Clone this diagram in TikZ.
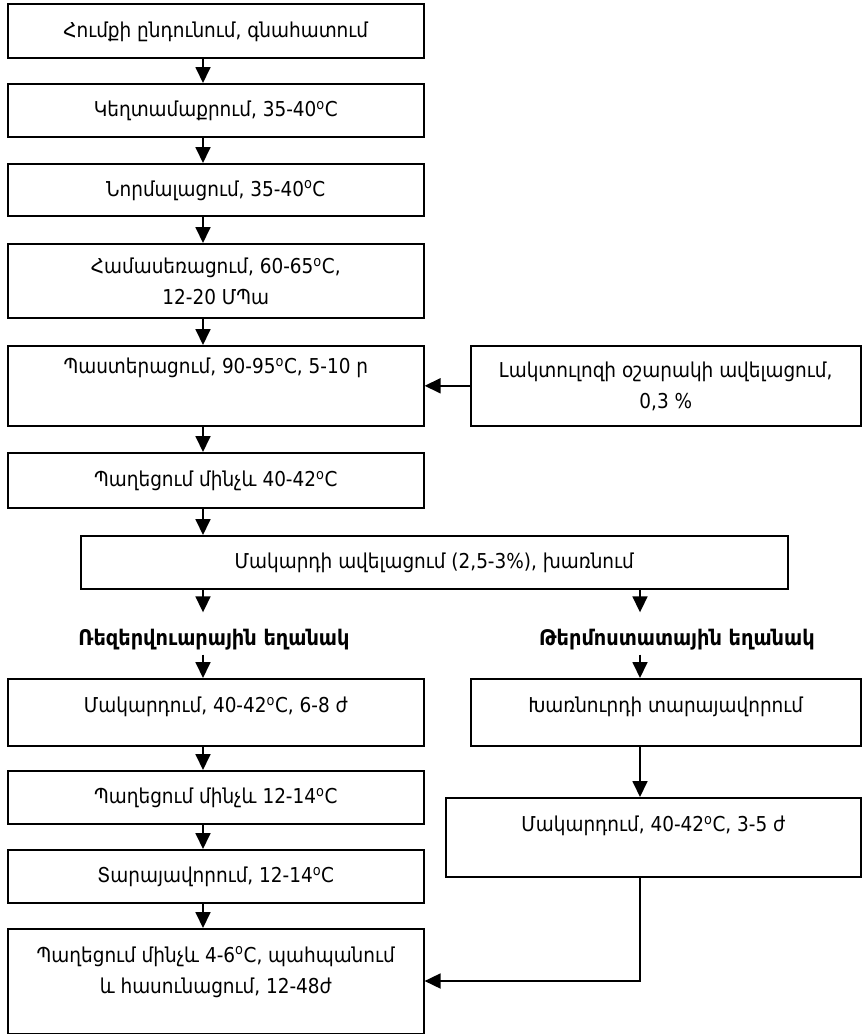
\documentclass[tikz,border=0pt]{standalone}
\usepackage{fontspec}
\setmainfont{DejaVu Sans Condensed}
\usetikzlibrary{arrows.meta,calc}
\newcommand{\dg}{\textsuperscript{o}}
\begin{document}
\begin{tikzpicture}[x=1pt,y=-1pt,
  box/.style={draw,line width=1.6pt,anchor=north west,inner sep=0pt},
  txt/.style={font=\fontsize{20.5}{31}\selectfont,align=center,inner sep=0pt},
  lbl/.style={font=\fontsize{21.5}{24}\selectfont\bfseries,inner sep=0pt},
  arr/.style={line width=1.8pt,-{Triangle[length=16pt,width=15pt]}},
  ln/.style={line width=1.8pt}]
\useasboundingbox (0,0) rectangle (862,1034);
% boxes
\node[box,minimum width=416,minimum height=54] (b1) at (7,3) {};
\node[box,minimum width=416,minimum height=53] (b2) at (7,83) {};
\node[box,minimum width=416,minimum height=52] (b3) at (7,163) {};
\node[box,minimum width=416,minimum height=74] (b4) at (7,243) {};
\node[box,minimum width=416,minimum height=80] (b5) at (7,345) {};
\node[box,minimum width=390,minimum height=80] (r0) at (470,345) {};
\node[box,minimum width=416,minimum height=55] (b6) at (7,452) {};
\node[box,minimum width=707,minimum height=53] (b7) at (80,535) {};
\node[box,minimum width=416,minimum height=67] (b8) at (7,678) {};
\node[box,minimum width=416,minimum height=53] (b9) at (7,770) {};
\node[box,minimum width=416,minimum height=53] (b10) at (7,849) {};
\node[box,minimum width=416,minimum height=105] (b11) at (7,928) {};
\node[box,minimum width=390,minimum height=67] (r1) at (470,678) {};
\node[box,minimum width=415,minimum height=79] (r2) at (445,797) {};
% texts
\node[txt] at ($(b1.center)+(0,1)$) {Հումքի ընդունում, գնահատում};
\node[txt] at ($(b2.center)+(0,1)$) {Կեղտամաքրում, 35-40\dg C};
\node[txt] at ($(b3.center)+(0,1)$) {Նորմալացում, 35-40\dg C};
\node[txt] at ($(b4.center)+(0,1)$) {Համասեռացում, 60-65\dg C,\\12-20 ՄՊա};
\node[txt] at ($(b5.north)+(0,23)$) {Պաստերացում, 90-95\dg C, 5-10 ր};
\node[txt] at ($(r0.center)+(0,1)$) {Լակտուլոզի օշարակի ավելացում,\\0,3 \%};
\node[txt] at ($(b6.center)+(0,1)$) {Պաղեցում մինչև 40-42\dg C};
\node[txt] at ($(b7.center)+(0,1)$) {Մակարդի ավելացում (2,5-3\%), խառնում};
\node[txt] at ($(b8.north)+(0,29)$) {Մակարդում, 40-42\dg C, 6-8 ժ};
\node[txt] at ($(b9.center)+(0,1)$) {Պաղեցում մինչև 12-14\dg C};
\node[txt] at ($(b10.center)+(0,1)$) {Տարայավորում, 12-14\dg C};
\node[txt] at ($(b11.north)+(0,44)$) {Պաղեցում մինչև 4-6\dg C, պահպանում\\և հասունացում, 12-48ժ};
\node[txt] at ($(r1.north)+(0,29)$) {Խառնուրդի տարայավորում};
\node[txt] at ($(r2.north)+(0,29)$) {Մակարդում, 40-42\dg C, 3-5 ժ};
% labels
\node[lbl] (lL) at (214,640) {Ռեզերվուարային եղանակ};
\node[lbl] (lR) at (677,640) {Թերմոստատային եղանակ};
% column coordinates
\coordinate (cL) at (203,0);
\coordinate (cR) at (640,0);
\coordinate (turn) at (640,981);
% connectors
\draw[arr] (b1.south -| cL) -- (b2.north -| cL);
\draw[arr] (b2.south -| cL) -- (b3.north -| cL);
\draw[arr] (b3.south -| cL) -- (b4.north -| cL);
\draw[arr] (b4.south -| cL) -- (b5.north -| cL);
\draw[arr] (r0.west) -- (b5.east |- r0.west);
\draw[arr] (b5.south -| cL) -- (b6.north -| cL);
\draw[arr] (b6.south -| cL) -- (b7.north -| cL);
\draw[arr,shorten >=17pt] (b7.south -| cL) -- (lL.north -| cL);
\draw[arr,shorten >=17pt] (b7.south -| cR) -- (lR.north -| cR);
\draw[arr,shorten <=4pt] (lL.south -| cL) -- (b8.north -| cL);
\draw[arr,shorten <=4pt] (lR.south -| cR) -- (r1.north -| cR);
\draw[arr] (b8.south -| cL) -- (b9.north -| cL);
\draw[arr] (b9.south -| cL) -- (b10.north -| cL);
\draw[arr] (b10.south -| cL) -- (b11.north -| cL);
\draw[arr] (r1.south -| cR) -- (r2.north -| cR);
\draw[arr] (r2.south -| cR) -- (turn) -- (b11.east |- turn);
\end{tikzpicture}
\end{document}
